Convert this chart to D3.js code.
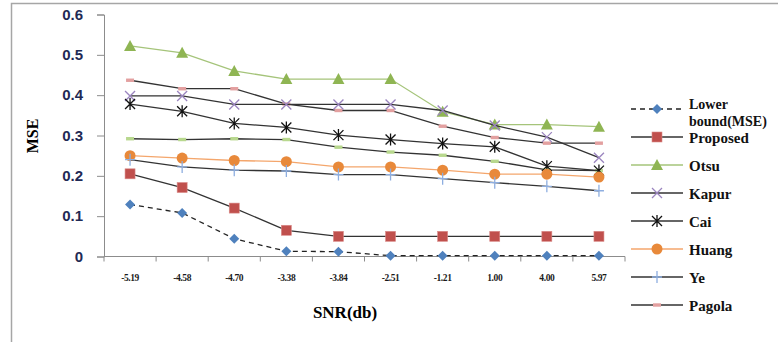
<!DOCTYPE html>
<html>
<head>
<meta charset="utf-8">
<script src="https://cdn.jsdelivr.net/npm/d3@7"></script>
<style>
  body { margin: 0; background: #fff; }
  svg { display: block; }
</style>
</head>
<body>
<div id="chart"></div>
<script>
// categories on the x axis (as printed, not sorted)
var snr = ["-5.19", "-4.58", "-4.70", "-3.38", "-3.84", "-2.51", "-1.21", "1.00", "4.00", "5.97"];
var yTicks = [0, 0.1, 0.2, 0.3, 0.4, 0.5, 0.6];

var lowerBound = [0.129, 0.108, 0.044, 0.013, 0.012, 0.002, 0.002, 0.002, 0.002, 0.002];
var proposed   = [0.205, 0.171, 0.120, 0.065, 0.050, 0.050, 0.050, 0.050, 0.050, 0.050];
var otsu       = [0.522, 0.505, 0.460, 0.440, 0.440, 0.440, 0.359, 0.327, 0.327, 0.322];
var kapur      = [0.398, 0.398, 0.377, 0.377, 0.377, 0.377, 0.362, 0.325, 0.296, 0.245];
var cai        = [0.378, 0.360, 0.330, 0.320, 0.301, 0.290, 0.280, 0.272, 0.224, 0.213];
var huang      = [0.250, 0.244, 0.238, 0.235, 0.222, 0.222, 0.214, 0.204, 0.204, 0.197];
var ye         = [0.240, 0.222, 0.214, 0.212, 0.203, 0.203, 0.193, 0.183, 0.174, 0.163];
var pagola     = [0.437, 0.416, 0.416, 0.378, 0.362, 0.362, 0.323, 0.295, 0.281, 0.281];
var unlabeled  = [0.292, 0.290, 0.292, 0.290, 0.271, 0.259, 0.251, 0.236, 0.215, 0.213]; // not in the legend

var series = [
  { name: "Lower bound(MSE)", lines: ["Lower", "bound(MSE)"], values: lowerBound, line: "#222", dash: "5,4", marker: "diamond", fill: "#4f81bd", legend: true },
  { name: "Proposed", values: proposed, line: "#333", marker: "square", fill: "#c0504d", legend: true },
  { name: "Otsu", values: otsu, line: "#a5c47a", marker: "triangle", fill: "#8fb553", legend: true },
  { name: "Kapur", values: kapur, line: "#333", marker: "x", fill: "#9b85bf", legend: true },
  { name: "Cai", values: cai, line: "#333", marker: "star", fill: "#111", legend: true },
  { name: "Huang", values: huang, line: "#f4a66c", marker: "circle", fill: "#e8893a", legend: true },
  { name: "Ye", values: ye, line: "#333", marker: "plus", fill: "#8eaee0", legend: true },
  { name: "Pagola", values: pagola, line: "#333", marker: "dash", fill: "#e3a0a0", legend: true },
  { name: "", values: unlabeled, line: "#333", marker: "dash", fill: "#b8d88e", legend: false }
];

var width = 778, height = 342;
var plot = { left: 104, right: 625, top: 14.5, bottom: 256.5 };

var svg = d3.select("#chart").append("svg")
    .attr("width", width)
    .attr("height", height);

// outer chart frame
svg.append("rect")
    .attr("x", 11.5).attr("y", 3.5)
    .attr("width", 800).attr("height", 400)
    .attr("fill", "none")
    .attr("stroke", "#a6a6a6")
    .attr("stroke-width", 1.5);

var x = d3.scalePoint()
    .domain(snr)
    .range([plot.left, plot.right])
    .padding(0.5);
var y = d3.scaleLinear()
    .domain([0, 0.6])
    .range([plot.bottom, plot.top]);

// y axis
var yAxis = d3.axisLeft(y)
    .tickValues(yTicks)
    .tickSize(7)
    .tickPadding(14)
    .tickFormat(function(d) { return d === 0 ? "0" : d3.format(".1f")(d); });
var gy = svg.append("g")
    .attr("transform", "translate(" + plot.left + ",0)")
    .call(yAxis);
gy.selectAll("path, line").attr("stroke", "#8c8c8c");
gy.selectAll("text")
    .attr("fill", "#1f2a55")
    .style("font-family", "'Liberation Sans', Arial, sans-serif")
    .style("font-size", "15px")
    .style("font-weight", "bold");

// x axis: ticks between categories
var step = x.step();
var gx = svg.append("g")
    .attr("transform", "translate(0," + plot.bottom + ")");
gx.append("line")
    .attr("x1", plot.left).attr("x2", plot.right)
    .attr("stroke", "#8c8c8c");
gx.selectAll("line.tick")
    .data(d3.range(snr.length + 1))
    .enter().append("line")
    .attr("class", "tick")
    .attr("x1", function(i) { return plot.left + i * step; })
    .attr("x2", function(i) { return plot.left + i * step; })
    .attr("y1", 0).attr("y2", 5)
    .attr("stroke", "#8c8c8c");
gx.selectAll("text")
    .data(snr)
    .enter().append("text")
    .attr("x", function(d) { return x(d); })
    .attr("y", 24)
    .attr("text-anchor", "middle")
    .attr("fill", "#1a1a1a")
    .style("font-family", "'Liberation Serif', 'Times New Roman', serif")
    .style("font-size", "9.5px")
    .style("font-weight", "bold")
    .style("letter-spacing", "-0.4px")
    .text(function(d) { return d; });

// axis titles
svg.append("text")
    .attr("transform", "translate(38,136) rotate(-90)")
    .attr("text-anchor", "middle")
    .style("font-family", "'Liberation Serif', 'Times New Roman', serif")
    .style("font-size", "16px")
    .style("font-weight", "bold")
    .text("MSE");
svg.append("text")
    .attr("x", 345).attr("y", 318)
    .attr("text-anchor", "middle")
    .style("font-family", "'Liberation Serif', 'Times New Roman', serif")
    .style("font-size", "17px")
    .style("font-weight", "bold")
    .text("SNR(db)");

function drawMarker(g, type, fill) {
  if (type === "diamond") {
    g.append("path").attr("d", "M0,-5L5,0L0,5L-5,0Z").attr("fill", fill);
  } else if (type === "square") {
    g.append("rect").attr("x", -5).attr("y", -5).attr("width", 10).attr("height", 10)
      .attr("fill", fill).attr("stroke", "#d98a88").attr("stroke-width", 0.6);
  } else if (type === "triangle") {
    g.append("path").attr("d", "M0,-6L6,5L-6,5Z").attr("fill", fill);
  } else if (type === "circle") {
    g.append("circle").attr("r", 5.5).attr("fill", fill);
  } else if (type === "x") {
    g.append("path").attr("d", "M-5,-5L5,5M-5,5L5,-5").attr("stroke", fill).attr("stroke-width", 1.3);
  } else if (type === "star") {
    g.append("path").attr("d", "M-5,-5L5,5M-5,5L5,-5M0,-6L0,6").attr("stroke", fill).attr("stroke-width", 1.3);
  } else if (type === "plus") {
    g.append("path").attr("d", "M-5,0L5,0M0,-6L0,6").attr("stroke", fill).attr("stroke-width", 1.3);
  } else if (type === "dash") {
    g.append("rect").attr("x", -4).attr("y", -1.7).attr("width", 8).attr("height", 3.4).attr("fill", fill);
  }
}

var line = d3.line()
    .x(function(d, i) { return x(snr[i]); })
    .y(function(d) { return y(d); });

// draw back to front so the lower series sit on top like the reference
var order = [8, 7, 2, 3, 4, 5, 6, 1, 0];
order.forEach(function(k) {
  var s = series[k];
  var g = svg.append("g");
  g.append("path")
    .datum(s.values)
    .attr("d", line)
    .attr("fill", "none")
    .attr("stroke", s.line)
    .attr("stroke-width", 1.3)
    .attr("stroke-dasharray", s.dash || null);
  s.values.forEach(function(v, i) {
    var m = g.append("g").attr("transform", "translate(" + x(snr[i]) + "," + y(v) + ")");
    drawMarker(m, s.marker, s.fill);
  });
});

// legend
var legendItems = series.filter(function(s) { return s.legend; });
var lg = svg.append("g").attr("transform", "translate(631,109)");
legendItems.forEach(function(s, i) {
  var row = lg.append("g").attr("transform", "translate(0," + (i * 28) + ")");
  row.append("line")
    .attr("x1", 0).attr("x2", 52)
    .attr("stroke", s.line)
    .attr("stroke-width", 1.3)
    .attr("stroke-dasharray", s.dash || null);
  var m = row.append("g").attr("transform", "translate(26,0)");
  drawMarker(m, s.marker, s.fill);
  // long names wrap onto two lines, tight spacing like the reference
  var lines = s.lines || [s.name];
  lines.forEach(function(txt, j) {
    row.append("text")
      .attr("x", 58).attr("y", lines.length > 1 ? j * 16.5 : 6)
      .style("font-family", "'Liberation Serif', 'Times New Roman', serif")
      .style("font-size", lines.length > 1 ? "14px" : "15px")
      .style("font-weight", "bold")
      .attr("fill", "#111")
      .text(txt);
  });
});
</script>
</body>
</html>
